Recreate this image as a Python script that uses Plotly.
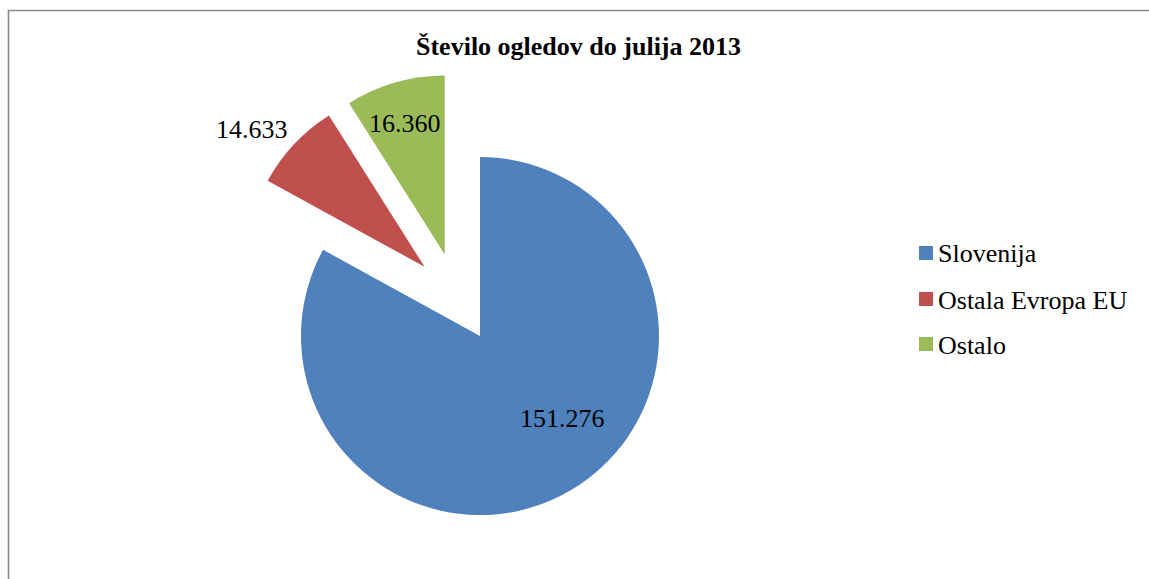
import plotly.graph_objects as go

# Data
labels = ["Slovenija", "Ostala Evropa EU", "Ostalo"]
values = [151276, 14633, 16360]
colors = ["#4F81BD", "#C0504D", "#9BBB59"]

W, H = 1149, 579
FONT = "Liberation Serif, Times New Roman, serif"


def fmt(v):
    # Slovene thousands separator
    return f"{v:,}".replace(",", ".")


def px(x):
    return x / W


def py(y):
    return 1 - y / H


fig = go.Figure()

fig.add_trace(go.Pie(
    labels=labels,
    values=values,
    sort=False,
    direction="clockwise",
    rotation=0,
    pull=[0.25, 0.25, 0.25],
    marker=dict(colors=colors, line=dict(width=0)),
    textinfo="none",
    showlegend=False,
    domain=dict(x=[px(227.2), px(687.2)], y=[py(521.25), py(73.75)]),
))

annotations = []

# value labels
label_pos = [(562, 418), (252, 129), (405, 124)]
for v, (lx, ly) in zip(values, label_pos):
    annotations.append(dict(
        x=px(lx), y=py(ly), xref="paper", yref="paper",
        text=fmt(v), showarrow=False, xanchor="center", yanchor="middle",
        font=dict(family=FONT, size=26, color="#000000"),
    ))

# title
annotations.append(dict(
    x=px(578.5), y=py(47), xref="paper", yref="paper",
    text="<b>Število ogledov do julija 2013</b>", showarrow=False,
    xanchor="center", yanchor="middle",
    font=dict(family=FONT, size=26, color="#000000"),
))

# legend
shapes = []
legend_rows = [253, 299, 344]
for lab, col, ry in zip(labels, colors, legend_rows):
    shapes.append(dict(
        type="rect", xref="paper", yref="paper",
        x0=px(919), x1=px(933), y0=py(ry + 7), y1=py(ry - 7),
        fillcolor=col, line=dict(width=0),
    ))
    annotations.append(dict(
        x=px(936), y=py(ry + 1), xref="paper", yref="paper",
        text=lab, showarrow=False, xanchor="left", yanchor="middle",
        font=dict(family=FONT, size=26, color="#000000"),
    ))

# chart frame
shapes.append(dict(
    type="rect", xref="paper", yref="paper",
    x0=px(8.5), x1=px(W + 20), y0=py(H + 20), y1=py(10.5),
    line=dict(color="#8a8a8a", width=1.6), fillcolor="rgba(0,0,0,0)",
))

fig.update_layout(
    width=W, height=H,
    margin=dict(l=0, r=0, t=0, b=0),
    paper_bgcolor="#ffffff",
    plot_bgcolor="#ffffff",
    annotations=annotations,
    shapes=shapes,
    showlegend=False,
)

fig.write_html("out.html")
